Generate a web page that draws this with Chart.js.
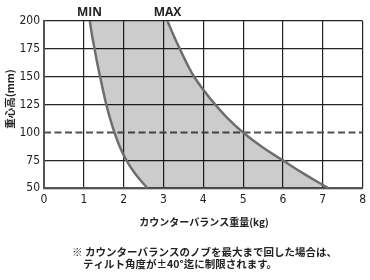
<!DOCTYPE html>
<html>
<head>
<meta charset="utf-8">
<script src="https://cdn.jsdelivr.net/npm/chart.js@4.4.1/dist/chart.umd.min.js"></script>
<style>
html,body{margin:0;padding:0;background:#fff;}
#wrap{width:370px;height:280px;position:relative;}
</style>
</head>
<body>
<div id="wrap"><canvas id="c" width="370" height="280"></canvas></div>
<script>
// Data
const heights = [50, 62.5, 75, 87.5, 100, 112.5, 125, 137.5, 150, 162.5, 175, 187.5, 200];
const minWeight = [2.6, 2.3, 2.07, 1.9, 1.77, 1.66, 1.565, 1.485, 1.41, 1.335, 1.27, 1.205, 1.15];
const maxWeight = [7.15, 6.55, 6.0, 5.46, 5.0, 4.62, 4.3, 4.02, 3.77, 3.58, 3.41, 3.25, 3.1];
const limitHeight = 100;
const xTicks = [0, 1, 2, 3, 4, 5, 6, 7, 8];
const yTicks = [50, 75, 100, 125, 150, 175, 200];
const curveLabels = ['MIN', 'MAX'];
const yTitle = '重心高(mm)';
const xTitle = 'カウンターバランス重量(kg)';
const noteLines = ['※ カウンターバランスのノブを最大まで回した場合は、', 'ティルト角度が±40°迄に制限されます。'];

const toPts = (xs) => xs.map((v, i) => ({x: v, y: heights[i]}));

const tickFont = {family: "'Liberation Sans Narrow','DejaVu Sans Condensed','Open Sans',sans-serif", size: 12};
const jpFont = "'Noto Sans CJK JP','Noto Sans CJK SC',sans-serif";

const textPlugin = {
  id: 'texts',
  afterDraw(chart) {
    const ctx = chart.ctx;
    ctx.save();
    ctx.fillStyle = '#222';
    ctx.font = "bold 12px 'Open Sans','DejaVu Sans',sans-serif";
    ctx.textAlign = 'center';
    ctx.textBaseline = 'middle';
    ctx.fillText(curveLabels[0], 89.5, 13);
    ctx.fillText(curveLabels[1], 167.5, 13);
    ctx.save();
    ctx.translate(10, 99);
    ctx.rotate(-Math.PI / 2);
    ctx.font = "bold 10.5px " + jpFont;
    ctx.fillText(yTitle, 0, 0);
    ctx.restore();
    ctx.font = "bold 10px " + jpFont;
    ctx.fillText(xTitle, 204, 222);
    ctx.font = "bold 10.5px " + jpFont;
    ctx.textAlign = 'left';
    ctx.fillText(noteLines[0], 72, 252);
    ctx.fillText(noteLines[1], 83, 264);
    ctx.restore();
  }
};

new Chart(document.getElementById('c'), {
  type: 'line',
  data: {
    datasets: [
      {label: 'MIN', data: toPts(minWeight), borderColor: '#6e6e6e', borderWidth: 2.5, pointRadius: 0, fill: false, tension: 0.4},
      {label: 'MAX', data: toPts(maxWeight), borderColor: '#6e6e6e', borderWidth: 2.5, pointRadius: 0, fill: '-1', backgroundColor: 'rgba(0,0,0,0.2)', tension: 0.4},
      {label: 'limit', data: [{x: xTicks[0], y: limitHeight}, {x: xTicks[xTicks.length - 1], y: limitHeight}], borderColor: '#505050', borderWidth: 2, borderDash: [7, 3.5], pointRadius: 0, fill: false, tension: 0}
    ]
  },
  options: {
    indexAxis: 'y',
    responsive: false,
    animation: false,
    layout: {padding: {top: 21, right: 5.5, left: 0, bottom: 0}},
    plugins: {legend: {display: false}, tooltip: {enabled: false}},
    scales: {
      x: {
        type: 'linear', min: xTicks[0], max: xTicks[xTicks.length - 1],
        afterBuildTicks: (s) => { s.ticks = xTicks.map(v => ({value: v})); },
        afterFit: (s) => { s.height = 91.7; },
        ticks: {color: '#222', font: tickFont, padding: 4, maxRotation: 0},
        grid: {color: '#222', lineWidth: 1.2, drawTicks: false},
        border: {display: true, color: '#555', width: 2}
      },
      y: {
        type: 'linear', min: yTicks[0], max: yTicks[yTicks.length - 1],
        afterBuildTicks: (s) => { s.ticks = yTicks.map(v => ({value: v})); },
        afterFit: (s) => { s.width = 44; },
        ticks: {color: '#222', font: tickFont, padding: 4},
        grid: {color: (c) => (c.tick && c.tick.value === limitHeight ? 'rgba(0,0,0,0)' : '#222'), lineWidth: 1.2, drawTicks: false},
        border: {display: true, color: '#555', width: 2}
      }
    }
  },
  plugins: [textPlugin]
});
</script>
</body>
</html>
